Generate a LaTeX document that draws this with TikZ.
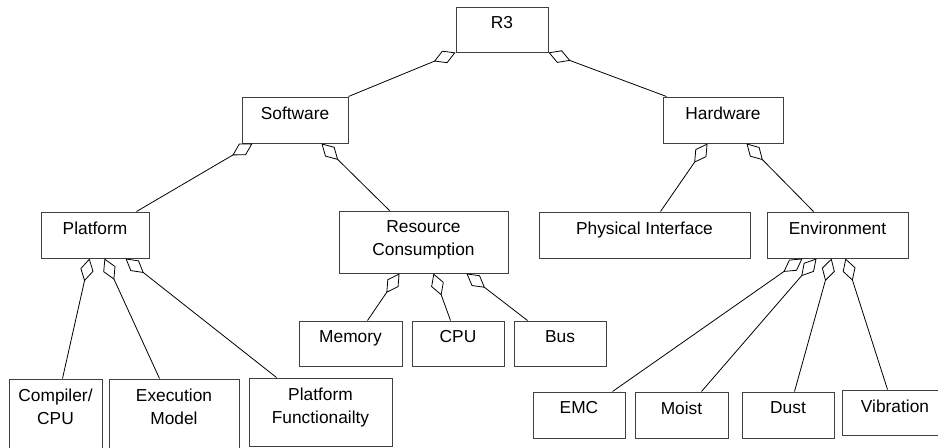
\documentclass[tikz,border=0pt]{standalone}
\usepackage{fontspec}
\setmainfont{Liberation Sans}
\usetikzlibrary{arrows.meta,calc,fit}
\tikzset{
  box/.style={draw=black!75, line width=0.75pt, rectangle, inner sep=0pt},
  lbl/.style={anchor=north, inner sep=0pt, align=center, font=\fontsize{13pt}{17.5pt}\selectfont, text=black},
  agg/.style={draw=black, line width=0.6pt, {Diamond[open,length=17.5pt,width=10pt]}-}
}
\newcommand{\mkbox}[6]{%
  \node[box, fit={(#2,#3) (#4,#5)}] (#1) {};
  \node[lbl] (#1-t) at ([yshift=-7.3pt]#1.north) {#6};}
\begin{document}
\begin{tikzpicture}[x=0.75pt,y=-0.75pt]
\useasboundingbox (0,0) rectangle (938,447);
\clip (0,0) rectangle (938,447);
\mkbox{R3}{456}{7}{548}{52}{R3}
\mkbox{SW}{242}{97}{348}{143}{Software}
\mkbox{HW}{663}{97}{783}{143}{Hardware}
\mkbox{PL}{41}{212}{149}{258}{Platform}
\mkbox{RC}{339}{211}{508}{273}{Resource\\Consumption}
\mkbox{PI}{539}{212}{750}{258}{Physical Interface}
\mkbox{EN}{767}{212}{908}{258}{Environment}
\mkbox{ME}{299}{321}{402}{366}{Memory}
\mkbox{CP}{412}{321}{504}{366}{CPU}
\mkbox{BU}{514}{321}{606}{366}{Bus}
\mkbox{CC}{9}{379}{102}{452}{Compiler/\\CPU}
\mkbox{EX}{109}{379}{239}{452}{Execution\\Model}
\mkbox{PF}{249}{378}{392}{446}{Platform\\Functionailty}
\mkbox{EM}{533}{392}{625}{438}{EMC}
\mkbox{MO}{635}{392}{728}{438}{Moist}
\mkbox{DU}{742}{392}{834}{438}{Dust}
\mkbox{VI}{842}{390}{948}{435}{Vibration}
% connectors
\draw[agg] (R3.south west) -- (SW.north east);
\draw[agg] (R3.south east) -- ($(HW.north west)+(4,0)$);
\draw[agg] ($(SW.south west)+(11,0)$) -- ($(PL.north west)+(96,0)$);
\draw[agg] ($(SW.south west)+(80,0)$) -- ($(RC.north west)+(51,0)$);
\draw[agg] ($(HW.south west)+(45,0)$) -- ($(PI.north west)+(122,0)$);
\draw[agg] ($(HW.south west)+(84,0)$) -- ($(EN.north west)+(47,0)$);
\draw[agg] ($(PL.south west)+(49,0)$) -- ($(CC.north west)+(54,0)$);
\draw[agg] ($(PL.south west)+(64,0)$) -- ($(EX.north west)+(51,0)$);
\draw[agg] ($(PL.south west)+(85,0)$) -- ($(PF.north west)+(28,0)$);
\draw[agg] ($(RC.south west)+(61,0)$) -- ($(ME.north west)+(69,0)$);
\draw[agg] ($(RC.south west)+(95,0)$) -- ($(CP.north west)+(39,0)$);
\draw[agg] ($(RC.south west)+(128,0)$) -- ($(BU.north west)+(14,0)$);
\draw[agg] ($(EN.south west)+(36,0)$) -- ($(EM.north west)+(80,0)$);
\draw[agg] ($(EN.south west)+(50,0)$) -- ($(MO.north west)+(67,0)$);
\draw[agg] ($(EN.south west)+(65,0)$) -- ($(DU.north west)+(53,0)$);
\draw[agg] ($(EN.south west)+(79,0)$) -- ($(VI.north west)+(46,0)$);
\end{tikzpicture}
\end{document}
